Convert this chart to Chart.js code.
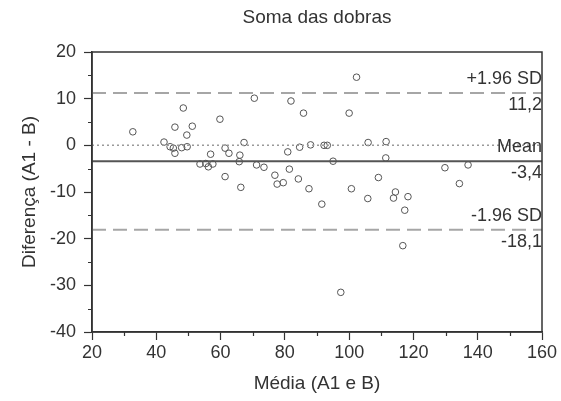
<!DOCTYPE html>
<html lang="pt">
<head>
<meta charset="UTF-8">
<title>Soma das dobras</title>
<script src="https://cdn.jsdelivr.net/npm/chart.js@4.4.1/dist/chart.umd.min.js"></script>
<style>
  html, body { margin: 0; padding: 0; background: #fff; }
  #wrap { width: 561px; height: 401px; }
</style>
</head>
<body>
<div id="wrap"><canvas id="bland"></canvas></div>
<script>
// Bland-Altman: media (A1 e B) vs diferenca (A1 - B)
const mediaA1B = [32.7, 42.4, 44.3, 45.3, 45.8, 45.8, 47.9, 48.4, 49.5, 49.6,
  51.2, 53.6, 55.4, 56.2, 57.6, 56.9, 59.8, 61.4, 62.6, 61.4,
  66.0, 65.8, 67.3, 66.3, 70.5, 71.2, 73.5, 76.9, 77.6, 79.5,
  80.9, 81.4, 81.9, 84.2, 84.6, 85.8, 87.5, 88.0, 91.5, 92.2,
  93.2, 95.0, 97.4, 100.0, 100.7, 102.3, 105.9, 105.8, 109.1, 111.5,
  111.4, 114.4, 113.8, 118.3, 117.3, 116.7, 129.8, 134.3, 137.0];
const difA1B = [2.9, 0.7, -0.3, -0.6, -1.7, 3.9, -0.5, 8.0, 2.2, -0.3,
  4.1, -4.0, -3.9, -4.6, -4.0, -1.9, 5.6, -0.6, -1.7, -6.7,
  -2.1, -3.5, 0.6, -9.0, 10.1, -4.2, -4.7, -6.4, -8.3, -8.0,
  -1.4, -5.1, 9.5, -7.2, -0.4, 6.9, -9.3, 0.1, -12.6, 0.0,
  0.0, -3.4, -31.5, 6.9, -9.3, 14.6, 0.6, -11.4, -6.9, 0.8,
  -2.7, -10.0, -11.3, -11.0, -13.9, -21.5, -4.8, -8.2, -4.2];

const meanDif = -3.4;
const upperSD = 11.2;
const lowerSD = -18.1;
const xRange = [20, 160];
const yRange = [-40, 20];
const xMinorTicks = [30, 50, 70, 90, 110, 130, 150];
const yMinorTicks = [-35, -25, -15, -5, 5, 15];
const refLabels = [
  { value: upperSD, above: '+1.96 SD', below: '11,2' },
  { value: meanDif, above: 'Mean', below: '-3,4' },
  { value: lowerSD, above: '-1.96 SD', below: '-18,1' }
];

const FONT = 'Liberation Sans, Arial, sans-serif';
const hLine = (v) => xRange.map(x => ({ x: x, y: v }));

const extras = {
  id: 'extras',
  afterDatasetsDraw(chart) {
    const ctx = chart.ctx;
    const a = chart.chartArea;
    const xs = chart.scales.x, ys = chart.scales.y;
    ctx.save();
    // moldura
    ctx.strokeStyle = '#333';
    ctx.lineWidth = 1.5;
    ctx.strokeRect(a.left, a.top, a.right - a.left, a.bottom - a.top);
    // ticks menores
    ctx.lineWidth = 1.2;
    ctx.beginPath();
    xMinorTicks.forEach(v => {
      const px = Math.round(xs.getPixelForValue(v)) + 0.5;
      ctx.moveTo(px, a.bottom); ctx.lineTo(px, a.bottom + 4);
    });
    yMinorTicks.forEach(v => {
      const py = Math.round(ys.getPixelForValue(v)) + 0.5;
      ctx.moveTo(a.left, py); ctx.lineTo(a.left - 4, py);
    });
    ctx.stroke();
    // titulo
    ctx.fillStyle = '#333';
    ctx.font = '19px ' + FONT;
    ctx.textAlign = 'center';
    ctx.textBaseline = 'middle';
    ctx.fillText('Soma das dobras', (a.left + a.right) / 2, 18);
    // rotulos das linhas
    ctx.font = '18px ' + FONT;
    ctx.textAlign = 'right';
    refLabels.forEach(r => {
      const py = ys.getPixelForValue(r.value);
      ctx.fillText(r.above, a.right, py - 14);
      ctx.fillText(r.below, a.right, py + 12);
    });
    ctx.restore();
  }
};

new Chart(document.getElementById('bland'), {
  type: 'scatter',
  data: {
    datasets: [
      {
        label: 'zero',
        type: 'line',
        data: hLine(0),
        borderColor: '#9a9a9a',
        borderWidth: 1.5,
        borderDash: [2, 3],
        pointRadius: 0
      },
      {
        label: '+1.96 SD',
        type: 'line',
        data: hLine(upperSD),
        borderColor: '#a6a6a6',
        borderWidth: 2,
        borderDash: [14, 7],
        pointRadius: 0
      },
      {
        label: '-1.96 SD',
        type: 'line',
        data: hLine(lowerSD),
        borderColor: '#a6a6a6',
        borderWidth: 2,
        borderDash: [14, 7],
        pointRadius: 0
      },
      {
        label: 'Mean',
        type: 'line',
        data: hLine(meanDif),
        borderColor: '#555',
        borderWidth: 2,
        pointRadius: 0
      },
      {
        label: 'dados',
        data: mediaA1B.map((m, i) => ({ x: m, y: difA1B[i] })),
        pointStyle: 'circle',
        pointRadius: 3.3,
        pointBackgroundColor: 'rgba(255,255,255,0)',
        pointBorderColor: '#555',
        pointBorderWidth: 1
      }
    ]
  },
  options: {
    responsive: true,
    maintainAspectRatio: false,
    animation: false,
    layout: { padding: { top: 52, right: 19, left: 0, bottom: 0 } },
    plugins: { legend: { display: false }, tooltip: { enabled: false } },
    scales: {
      x: {
        type: 'linear',
        min: xRange[0], max: xRange[1],
        afterFit: (s) => { s.height = 69; },
        ticks: { stepSize: 20, color: '#333', padding: 2, font: { family: FONT, size: 18 } },
        grid: { drawOnChartArea: false, drawTicks: true, tickLength: 8, tickWidth: 1.2, tickColor: '#333' },
        border: { color: '#333', width: 1.5 },
        title: { display: true, text: 'Média (A1 e B)', color: '#333',
          font: { family: FONT, size: 19, lineHeight: 1.2 }, padding: { top: 0, bottom: 6 } }
      },
      y: {
        type: 'linear',
        min: yRange[0], max: yRange[1],
        afterFit: (s) => { s.width = 92; },
        ticks: { stepSize: 10, color: '#333', padding: 8, font: { family: FONT, size: 18 } },
        grid: { drawOnChartArea: false, drawTicks: true, tickLength: 8, tickWidth: 1.2, tickColor: '#333' },
        border: { color: '#333', width: 1.5 },
        title: { display: true, text: 'Diferença (A1 - B)', color: '#333',
          font: { family: FONT, size: 19, lineHeight: 1.2 }, padding: { top: 18, bottom: 0 } }
      }
    }
  },
  plugins: [extras]
});
</script>
</body>
</html>
